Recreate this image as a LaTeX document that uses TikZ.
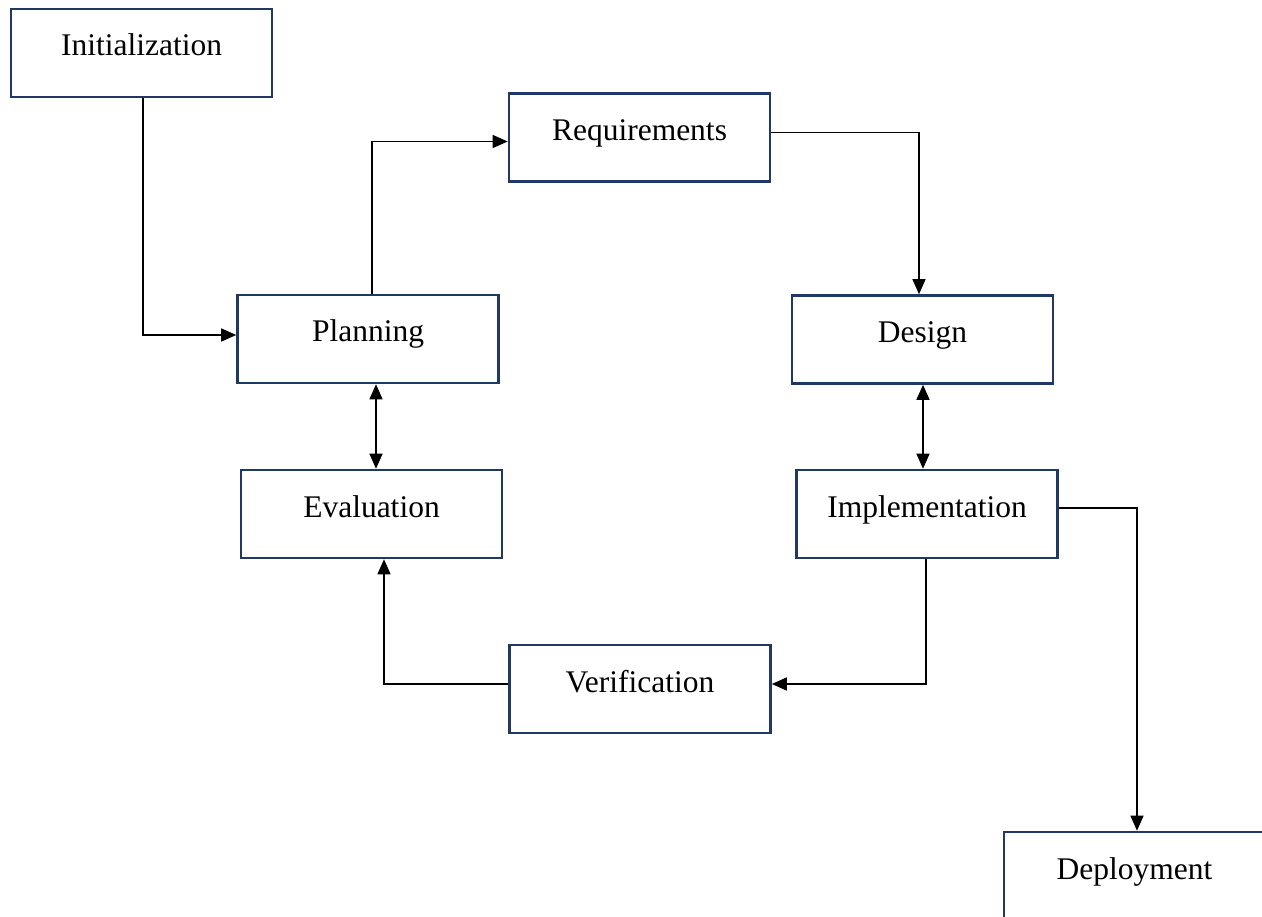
\documentclass[tikz,border=0pt]{standalone}
\usepackage{fontspec}
\setmainfont{Liberation Serif}
\usetikzlibrary{arrows.meta}
\definecolor{boxnavy}{RGB}{31,56,100}
\begin{document}
\begin{tikzpicture}[x=1pt,y=-1pt,
  stage/.style={draw=boxnavy, line width=2.6pt, fill=white, rectangle,
    minimum width=261pt, inner xsep=0pt, inner ysep=0pt,
    text height=47pt, text depth=41pt,
    font=\fontsize{31.5}{36}\selectfont},
  link/.style={draw=black, line width=1.3pt, -{Triangle[length=15pt,width=13pt]}},
  duallink/.style={draw=black, line width=1.3pt,
    {Triangle[length=15pt,width=13pt]}-{Triangle[length=15pt,width=13pt]}}]
  \useasboundingbox (0,0) rectangle (1262,917);
  \fill[white] (0,0) rectangle (1262,917);
  \clip (0,0) rectangle (1262,917);

  % process stages
  \node[stage] (init)   at (141.5,53)  {Initialization};
  \node[stage] (req)    at (639.5,137.5) {Requirements};
  \node[stage] (plan)   at (368,339)   {Planning};
  \node[stage] (design) at (922.5,339.5) {Design};
  \node[stage] (eval)   at (371.5,514) {Evaluation};
  \node[stage] (impl)   at (927,514)   {Implementation};
  \node[stage] (verif)  at (640,689)   {Verification};
  \node[stage] (deploy) at (1134.5,876) {Deployment};

  % connectors
  \draw[link] ([xshift=1.5pt]init.south) |- ([yshift=4pt]plan.west);
  \draw[link] ([xshift=4pt]plan.north) |- ([yshift=-4pt]req.west);
  \draw[link] ([yshift=5pt]req.east) -| ([xshift=-3.5pt]design.north);
  \draw[duallink] ([xshift=0.5pt]design.south) -- ([xshift=0.5pt]design.south |- impl.north);
  \draw[duallink] ([xshift=8pt]plan.south) -- ([xshift=8pt]plan.south |- eval.north);
  \draw[link] ([xshift=-1pt]impl.south) |- ([yshift=5pt]verif.east);
  \draw[link] ([yshift=5pt]verif.west) -| ([xshift=12.5pt]eval.south);
  \draw[link] ([yshift=6pt]impl.east) -| ([xshift=2.5pt]deploy.north);
\end{tikzpicture}
\end{document}
